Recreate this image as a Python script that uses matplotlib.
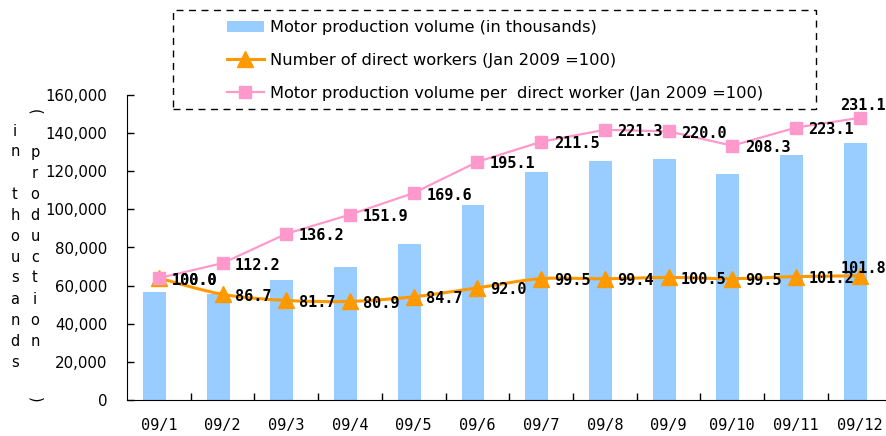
import matplotlib
matplotlib.use('Agg')
import matplotlib.pyplot as plt
import numpy as np
from matplotlib.path import Path
from matplotlib.patches import PathPatch, Rectangle, Patch
from matplotlib.lines import Line2D
from matplotlib.ticker import FuncFormatter

meses = ['09/1', '09/2', '09/3', '09/4', '09/5', '09/6', '09/7', '09/8', '09/9', '09/10', '09/11', '09/12']
produccion = [56700, 55700, 63000, 69800, 81900, 102300, 119600, 125300, 126300, 118500, 128400, 134700]
trabajadores = [100.0, 86.7, 81.7, 80.9, 84.7, 92.0, 99.5, 99.4, 100.5, 99.5, 101.2, 101.8]
por_trabajador = [100.0, 112.2, 136.2, 151.9, 169.6, 195.1, 211.5, 221.3, 220.0, 208.3, 223.1, 231.1]

etiquetas_leyenda = ['Motor production volume (in thousands)',
                     'Number of direct workers (Jan 2009 =100)',
                     'Motor production volume per  direct worker (Jan 2009 =100)']

azul = '#99CCFF'
naranja = '#FF9900'
rosa = '#FF99CC'

W, H = 887, 436
fig = plt.figure(figsize=(W / 100, H / 100), dpi=100)
ax = fig.add_axes([127 / W, (H - 400.3) / H, 764.6 / W, 305.6 / H])
x = np.arange(len(meses))

ax.bar(x - 0.07, produccion, width=0.36, color=azul, zorder=1)
ax.set_xlim(-0.5, len(meses) - 0.5)
ax.set_ylim(0, 160000)
ax.set_yticks(np.arange(0, 160001, 20000))
ax.yaxis.set_major_formatter(FuncFormatter(lambda v, p: f'{int(v):,}'))
ax.tick_params(axis='y', direction='in', length=5, width=1, pad=14, labelsize=10.8)
ax.set_xticks(x)
ax.set_xticklabels(meses, family='DejaVu Sans Mono', fontsize=11)
ax.set_xticks(np.arange(0.5, len(meses) - 0.5, 1), minor=True)
ax.tick_params(axis='x', which='major', length=0, pad=13)
ax.tick_params(axis='x', which='minor', direction='in', length=5, width=1)
for s in ['top', 'right']:
    ax.spines[s].set_visible(False)

# eje secundario (indices) oculto
ax2 = ax.twinx()
ax2.set_ylim(0, 250)
ax2.axis('off')

# linea suavizada para trabajadores (catmull-rom -> bezier)
pts = np.column_stack([x, trabajadores])
verts = [tuple(pts[0])]
codes = [Path.MOVETO]
for i in range(len(pts) - 1):
    p0 = pts[i - 1] if i > 0 else pts[i]
    p1 = pts[i]
    p2 = pts[i + 1]
    p3 = pts[i + 2] if i + 2 < len(pts) else pts[i + 1]
    c1 = p1 + (p2 - p0) / 6
    c2 = p2 - (p3 - p1) / 6
    verts += [tuple(c1), tuple(c2), tuple(p2)]
    codes += [Path.CURVE4] * 3
ax2.add_patch(PathPatch(Path(verts, codes), facecolor='none', edgecolor=naranja, lw=2.2, zorder=3))
ax2.plot(x, trabajadores, linestyle='none', marker='^', markersize=11, color=naranja, zorder=4)
ax2.plot(x, por_trabajador, color=rosa, lw=1.6, marker='s', markersize=8, zorder=5)

fuente = dict(family='DejaVu Sans Mono', fontweight='bold', fontsize=11, color='black')
ultimo = len(meses) - 1
for serie, final in [(trabajadores, (3, 5)), (por_trabajador, (2, 8.5))]:
    for i, v in enumerate(serie):
        if i == ultimo:
            ax2.annotate(f'{v:.1f}', (x[i], v), xytext=final, textcoords='offset points',
                         ha='center', va='center', zorder=6, annotation_clip=False, **fuente)
        else:
            ax2.annotate(f'{v:.1f}', (x[i], v), xytext=(9, -1.5), textcoords='offset points',
                         ha='left', va='center', zorder=6, **fuente)

# etiqueta vertical del eje y
izq = list('in thousands')
der = list('production')
for i, c in enumerate(izq):
    fig.text(15 / W, 1 - (131 + 21 * i) / H, c, ha='center', va='center', fontsize=10.5)
for i, c in enumerate(der):
    fig.text(35 / W, 1 - (152 + 21 * i) / H, c, ha='center', va='center', fontsize=10.5)
fig.text(35 / W, 1 - 112 / H, '(', ha='center', va='center', fontsize=10.5, rotation=-90)
fig.text(35 / W, 1 - 400 / H, ')', ha='center', va='center', fontsize=10.5, rotation=-90)

# leyenda con marco punteado
fig.patches.append(Rectangle((173 / W, 1 - 109 / H), (816 - 173) / W, 99 / H,
                             transform=fig.transFigure, fill=False, edgecolor='black',
                             lw=1, linestyle=(0, (5, 4))))
handles = [Patch(facecolor=azul, edgecolor='none'),
           Line2D([], [], color=naranja, lw=2.2, marker='^', markersize=11),
           Line2D([], [], color=rosa, lw=1.6, marker='s', markersize=8)]
fig.legend(handles, etiquetas_leyenda, loc='upper left', bbox_to_anchor=(227 / W, 1 - 20 / H),
           frameon=False, fontsize=11.7, handlelength=2.25, handletextpad=0.4,
           labelspacing=1.1, borderpad=0, borderaxespad=0)

plt.savefig('out.png', dpi=100)
plt.close()
